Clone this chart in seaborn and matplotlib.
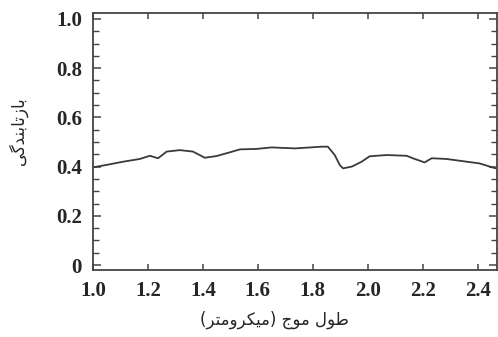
import matplotlib
matplotlib.use("Agg")
import matplotlib.pyplot as plt
from matplotlib.ticker import MultipleLocator
import pandas as pd
import seaborn as sns

# Reflectance spectrum
wavelength = [1.000, 1.050, 1.110, 1.170, 1.207, 1.237, 1.268, 1.316, 1.364, 1.407,
              1.450, 1.498, 1.535, 1.596, 1.650, 1.735, 1.833, 1.855, 1.880, 1.898,
              1.910, 1.942, 1.978, 2.007, 2.069, 2.142, 2.164, 2.207, 2.233, 2.287,
              2.360, 2.407, 2.465]
reflectance = [0.397, 0.407, 0.420, 0.431, 0.444, 0.434, 0.461, 0.467, 0.461, 0.436,
               0.443, 0.458, 0.470, 0.472, 0.478, 0.474, 0.481, 0.481, 0.447, 0.407,
               0.393, 0.400, 0.420, 0.442, 0.447, 0.444, 0.434, 0.417, 0.434, 0.431,
               0.420, 0.413, 0.393]

x_ticks = [1.0, 1.2, 1.4, 1.6, 1.8, 2.0, 2.2, 2.4]
y_ticks = [0, 0.2, 0.4, 0.6, 0.8, 1.0]
y_tick_labels = ["0", "0.2", "0.4", "0.6", "0.8", "1.0"]

# Persian labels, already in presentation forms and visual (left-to-right) order
x_label = "(\ufeae\ufe98\ufee3\ufeed\ufeae\ufb91\ufbff\ufee3) \ufe9d\ufeee\ufee3 \ufedd\ufeee\ufec3"
y_label = "\ufbfd\ufb94\ufeaa\ufee8\ufe91\ufe8e\ufe97\ufeaf\ufe8e\ufe91"

df = pd.DataFrame({"wavelength": wavelength, "reflectance": reflectance})

sns.set_style("ticks")
plt.rcParams["font.family"] = ["Liberation Serif", "DejaVu Sans"]

fig = plt.figure(figsize=(4.98, 3.37), dpi=100)
ax = fig.add_axes([0.1867, 0.1988, 0.811, 0.7626])

sns.lineplot(data=df, x="wavelength", y="reflectance", ax=ax,
             color="#3a3a3a", linewidth=1.3)

ax.set_xlim(1.0, 2.47)
ax.set_ylim(-0.02, 1.024)
ax.set_xticks(x_ticks)
ax.set_xticklabels([f"{t:.1f}" for t in x_ticks], fontsize=15, fontweight="bold")
ax.set_yticks(y_ticks)
ax.set_yticklabels(y_tick_labels, fontsize=15, fontweight="bold")
ax.yaxis.set_minor_locator(MultipleLocator(0.05))

ax.tick_params(axis="both", which="major", direction="in", length=6, width=1.1,
               color="#444444", top=True, right=True)
ax.tick_params(axis="x", which="major", length=4, pad=8)
ax.tick_params(axis="y", which="major", pad=8)
ax.tick_params(axis="y", which="minor", direction="in", length=4, width=1.0,
               color="#444444", right=True)

for s in ax.spines.values():
    s.set_visible(True)
    s.set_color("#444444")
    s.set_linewidth(1.3)

ax.set_xlabel(x_label, fontsize=12, family="DejaVu Sans")
ax.set_ylabel(y_label, fontsize=12, family="DejaVu Sans")
ax.xaxis.set_label_coords(0.45, -0.16)
ax.yaxis.set_label_coords(-0.16, 0.54)

fig.savefig("out.png", dpi=100)
